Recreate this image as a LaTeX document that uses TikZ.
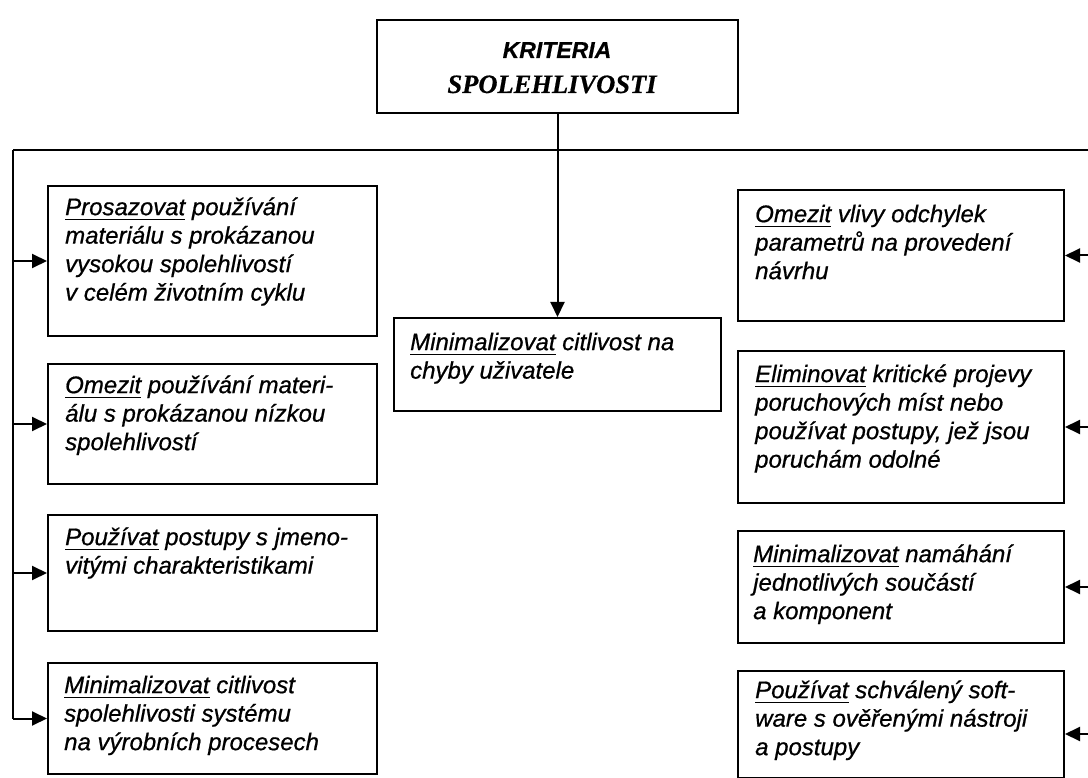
\documentclass[tikz,border=0pt]{standalone}
\usepackage{fontspec}
\setmainfont{Liberation Sans}
\newfontfamily\titleserif{Liberation Serif}
\newfontface\bodyit{Liberation Sans Italic}[FakeBold=0.7]
\newfontface\titlesans{Liberation Sans Bold Italic}[FakeBold=0.5]
\newfontface\titlerm{Liberation Serif Bold Italic}[FakeBold=0.5]
\usetikzlibrary{arrows.meta}

% underlined key word at the start of each box text
\newsavebox\kwbox
\newcommand\kw[1]{\leavevmode\sbox\kwbox{#1}\rlap{\rule[-4.8pt]{\wd\kwbox}{1.4pt}}\usebox\kwbox}

\tikzset{
  box/.style={draw, line width=2pt, inner sep=0pt, anchor=north west},
  txt/.style={anchor=north west, inner sep=0pt, align=left,
              font=\bodyit\fontsize{24}{28.5}\selectfont},
  link/.style={line width=2pt},
  arr/.style={link, -{Triangle[length=15pt,width=14pt]}},
}

\begin{document}
\begin{tikzpicture}[x=1pt,y=-1pt]
  % page frame
  \fill[white,use as bounding box] (0,0) rectangle (1088,778);

  % root box
  \node[draw, line width=2pt, inner sep=0pt, minimum width=361pt, minimum height=93pt]
    (top) at (557.5,66.5) {};
  \node[anchor=base, inner sep=0pt, font=\titlesans\fontsize{23}{28}\selectfont]
    (t1) at (557,58) {KRITERIA};
  \node[anchor=base, inner sep=0pt, font=\titlerm\fontsize{26.5}{30}\selectfont]
    (t2) at (552,93) {SPOLEHLIVOSTI};

  % left column
  \node[box, minimum width=329pt, minimum height=150pt] (l1) at (47,185) {};
  \node[box, minimum width=329pt, minimum height=120pt] (l2) at (47,363) {};
  \node[box, minimum width=329pt, minimum height=116pt] (l3) at (47,514) {};
  \node[box, minimum width=329pt, minimum height=111pt] (l4) at (47,662) {};

  \node[txt] (l1t) at (65,195) {\strut\kw{Prosazovat} používání\\materiálu s prokázanou\\vysokou spolehlivostí\\v celém životním cyklu};
  \node[txt] (l2t) at (65,373) {\strut\kw{Omezit} používání materi-\\álu s prokázanou nízkou\\spolehlivostí};
  \node[txt] (l3t) at (65,525) {\strut\kw{Používat} postupy s jmeno-\\vitými charakteristikami};
  \node[txt] (l4t) at (64,673) {\strut\kw{Minimalizovat} citlivost\\spolehlivosti systému\\na výrobních procesech};

  % middle
  \node[box, minimum width=327pt, minimum height=93pt] (mid) at (393,317) {};
  \node[txt] (midt) at (410,330) {\strut\kw{Minimalizovat} citlivost na\\chyby uživatele};

  % right column
  \node[box, minimum width=326pt, minimum height=131pt] (r1) at (737,189) {};
  \node[box, minimum width=326pt, minimum height=152pt] (r2) at (737,350) {};
  \node[box, minimum width=326pt, minimum height=112pt] (r3) at (737,530) {};
  \node[box, minimum width=326pt, minimum height=107pt] (r4) at (737,670) {};

  \node[txt] (r1t) at (755,202) {\strut\kw{Omezit} vlivy odchylek\\parametrů na provedení\\návrhu};
  \node[txt] (r2t) at (755,362) {\strut\kw{Eliminovat} kritické projevy\\poruchových míst nebo\\používat postupy, jež jsou\\poruchám odolné};
  \node[txt] (r3t) at (753,542) {\strut\kw{Minimalizovat} namáhání\\jednotlivých součástí\\a komponent};
  \node[txt] (r4t) at (755,678) {\strut\kw{Používat} schválený soft-\\ware s ověřenými nástroji\\a postupy};

  % connectors
  \coordinate (lt) at (13,150);
  \coordinate (rt) at (1088,150);
  \coordinate (r4in) at (1088,734);

  \draw[link] (lt) -- (rt);
  \draw[link] (lt) -- (lt |- l4.west);
  \draw[arr] (top.south -| mid.north) -- (mid.north);

  \foreach \b in {l1,l2,l3,l4}
    \draw[arr] (lt |- \b.west) -- (\b.west);
  \foreach \b in {r1,r2,r3}
    \draw[arr] (rt |- \b.east) -- (\b.east);
  \draw[arr] (r4in) -- (r4in -| r4.east);
\end{tikzpicture}
\end{document}
